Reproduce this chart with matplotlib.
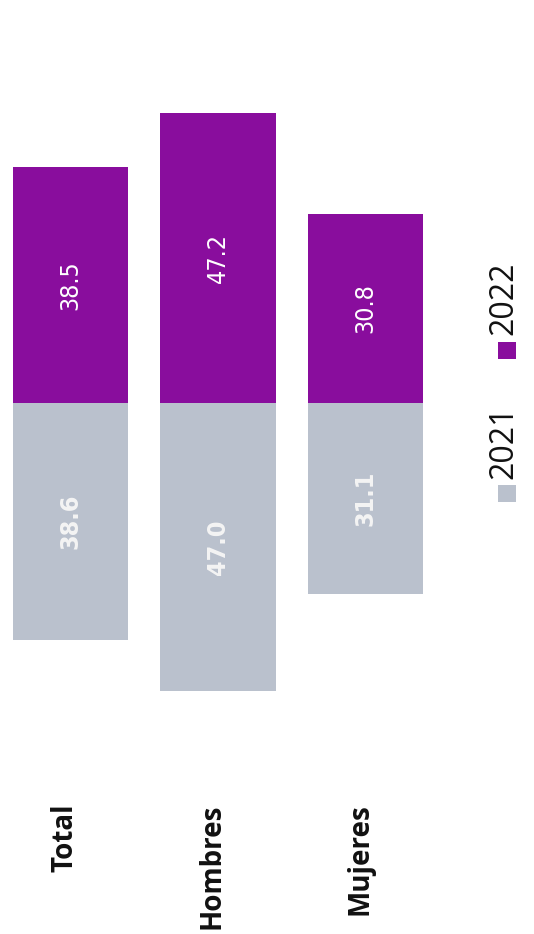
import matplotlib.pyplot as plt
from matplotlib import font_manager

categories = ["Total", "Hombres", "Mujeres"]
vals_2021 = [38.6, 47.0, 31.1]
vals_2022 = [38.5, 47.2, 30.8]
series_names = ["2021", "2022"]

purple = "#890d9d"
gray = "#bac1cd"

names = {f.name for f in font_manager.fontManager.ttflist}
narrow = "Liberation Sans Narrow" if "Liberation Sans Narrow" in names else "DejaVu Sans"

fig = plt.figure(figsize=(5.34, 9.34), dpi=100)
ax = fig.add_axes([0, 0, 1, 1])
ax.axis("off")

x = list(range(len(categories)))
ax.bar(x, vals_2022, width=0.78, color=purple, edgecolor="none")
ax.bar(x, [-v for v in vals_2021], width=0.78, color=gray, edgecolor="none")

ax.set_xlim(-0.478, 3.142)
ax.set_ylim(-86.6, 65.7)

for i, (a, b) in enumerate(zip(vals_2021, vals_2022)):
    ax.text(i, b / 2, f"{b:.1f}", rotation=90, ha="center", va="center",
            color="white", fontsize=18, family=narrow, fontstretch="condensed")
    ax.text(i, -a / 2, f"{a:.1f}", rotation=90, ha="center", va="center",
            color="#f4f4f4", fontsize=18, family=narrow, fontstretch="condensed",
            fontweight="bold")
    ax.text(i - 0.04, -65.3, categories[i], rotation=90, ha="center", va="top",
            fontsize=20, fontweight="bold", family="Open Sans", color="#111111")

# legend drawn by hand, rotated like the rest of the page
leg_x = 2.96
for name, col, my, ty in [(series_names[0], gray, -14.8, -12.4),
                          (series_names[1], purple, 8.6, 11.1)]:
    ax.bar(leg_x, 2.8, bottom=my - 1.4, width=0.12, color=col, edgecolor="none")
    ax.text(leg_x - 0.02, ty, name, rotation=90, ha="center", va="bottom",
            fontsize=23, family="Open Sans", color="#111111")

fig.savefig("out.png", dpi=100, facecolor="white")
